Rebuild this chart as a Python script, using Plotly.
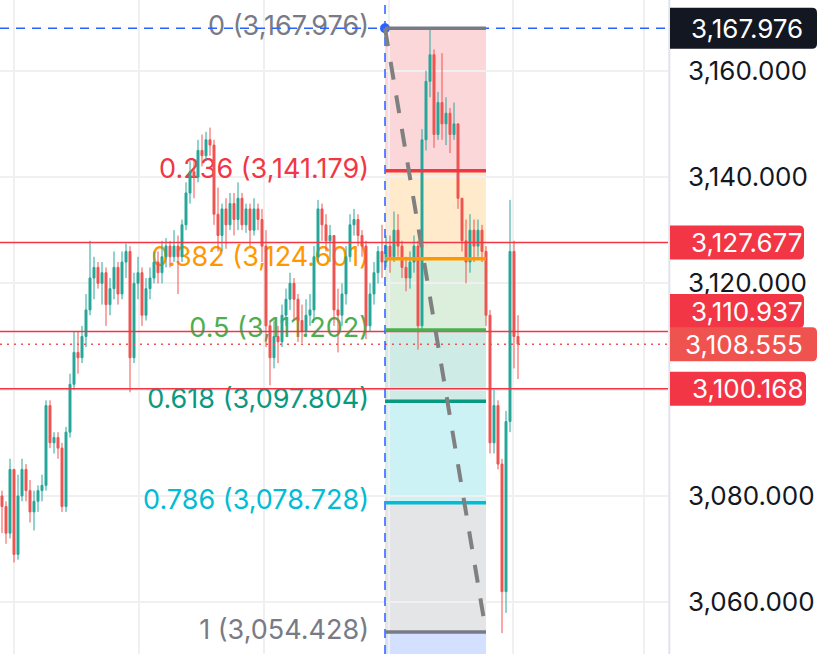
import plotly.graph_objects as go

# ---------------- data ----------------
close = [
    3078, 3073, 3085, 3069, 3080, 3085, 3081, 3077, 3079, 3081,
    3082, 3097, 3090, 3091, 3089, 3078, 3092, 3101, 3107, 3106,
    3110, 3115, 3121, 3123, 3120, 3122, 3116, 3119, 3123, 3118,
    3124, 3126, 3106, 3120, 3122, 3114, 3119, 3121, 3124, 3122,
    3125, 3127, 3125, 3127, 3125, 3131, 3137, 3141, 3140, 3145,
    3144, 3147, 3146, 3133, 3129, 3134, 3131, 3135, 3132, 3136,
    3131, 3134, 3130, 3134, 3132, 3127, 3112, 3106, 3110, 3109,
    3114, 3117, 3120, 3117, 3113, 3111, 3114, 3115, 3125, 3134,
    3131, 3128, 3129, 3115, 3114, 3118, 3125, 3131, 3132, 3129,
    3127, 3112, 3118, 3122, 3126, 3124, 3127, 3125, 3130, 3127,
    3123, 3121, 3124, 3127, 3112, 3147, 3158, 3163, 3148, 3154,
    3150, 3152, 3148, 3150, 3136, 3128, 3124, 3130, 3127, 3130,
    3126, 3114, 3090, 3097, 3086, 3062, 3094, 3126, 3110, 3108.555,
]
high = [
    3081, 3079, 3087, 3085, 3084, 3087, 3086, 3083, 3081, 3082,
    3084, 3098, 3098, 3092, 3092, 3090, 3093, 3103, 3111, 3111,
    3112, 3118, 3128, 3125, 3124, 3124, 3123, 3121, 3126, 3124,
    3126, 3127.5, 3127, 3122, 3125, 3123, 3121, 3123, 3126, 3126,
    3128, 3128.5, 3128, 3130, 3129, 3132, 3139, 3143, 3143, 3147,
    3148, 3148.5, 3149.3, 3147, 3138, 3135, 3136, 3137, 3137, 3139,
    3137, 3135, 3135, 3136, 3135, 3134, 3130, 3113, 3113, 3112,
    3116, 3119, 3122, 3121, 3118, 3116, 3117, 3118, 3127, 3135.7,
    3135, 3133, 3131, 3129, 3119, 3120, 3127, 3133, 3134, 3133,
    3130, 3128, 3120, 3124, 3127, 3131, 3129, 3129, 3133.5, 3133,
    3128, 3125, 3126, 3129, 3128, 3149, 3160, 3167.9, 3164, 3156,
    3163.3, 3155, 3153, 3154, 3150, 3136, 3132, 3133, 3132, 3132,
    3131, 3127, 3115, 3100, 3098, 3087, 3096, 3135.7, 3128, 3114,
]
low = [
    3073, 3071, 3072, 3067.5, 3068, 3079, 3079, 3075, 3073.5, 3077,
    3079, 3081, 3089, 3088, 3087, 3077, 3077, 3091, 3100, 3103,
    3105, 3108, 3114, 3117, 3119, 3116, 3112, 3114, 3117, 3116,
    3117, 3121, 3099.5, 3105, 3117, 3112, 3113, 3117, 3120, 3120,
    3120, 3123, 3123, 3124, 3118, 3124, 3130, 3135, 3136, 3139,
    3142, 3143, 3144, 3131, 3126, 3126, 3126.5, 3130, 3129, 3130,
    3130, 3129.5, 3127, 3129, 3130, 3124, 3108, 3100.8, 3104, 3105,
    3108, 3112, 3115, 3113, 3109, 3108.8, 3110, 3112, 3113, 3124,
    3128, 3126, 3124, 3112, 3107, 3112, 3116, 3124, 3129, 3127,
    3125, 3109.5, 3111, 3116, 3120, 3121, 3123, 3122, 3124, 3125,
    3121, 3118.5, 3119, 3122, 3107.5, 3111, 3145, 3155, 3145.5, 3147,
    3147, 3146, 3144.5, 3147, 3134, 3126, 3120, 3122, 3124, 3125,
    3124, 3112, 3088, 3088, 3085, 3054.2, 3058, 3092, 3104, 3102,
]
first_open = 3080
open_ = [first_open] + close[:-1]
bars = list(range(len(close)))

fib_ratio_text = ["0", "0.236", "0.382", "0.5", "0.618", "0.786", "1"]
fib_prices = [3167.976, 3141.179, 3124.601, 3111.202, 3097.804, 3078.728, 3054.428]
fib_colors = ["#787B86", "#F23645", "#FF9800", "#4CAF50", "#089981", "#00BCD4", "#787B86"]
fib_fills = ["rgba(242,54,69,0.2)", "rgba(255,152,0,0.2)", "rgba(76,175,80,0.2)",
             "rgba(8,153,129,0.2)", "rgba(0,188,212,0.2)", "rgba(120,123,134,0.2)",
             "rgba(41,98,255,0.2)"]
fib_start_bar = 95.75
fib_end_bar = 121.0
fib_ext_price = 3040.0

hline_prices = [3127.677, 3110.937, 3100.168]
last_price = 3108.555

tick_vals = [3060, 3080, 3100, 3120, 3140, 3160]
tick_text = ["3,060.000", "3,080.000", "", "3,120.000", "3,140.000", "3,160.000"]
vgrid_bars = [3, 34.25, 65.5, 96.75, 127.75, 160.5]

x_range = [-0.5, 166.5]
y_range = [3050.27, 3173.30]

FONT = "Inter, Roboto, sans-serif"
FS = 26
PLOT_W = 668.0
PLOT_H = 654.0
PX_PER_PRICE = PLOT_H / (y_range[1] - y_range[0])

fig = go.Figure()

# fib labels (drawn under candles)
fig.add_trace(go.Scatter(
    x=[fib_start_bar - 4.0] * len(fib_prices), y=fib_prices, mode="text",
    text=[f"{r} ({p:,.3f})" for r, p in zip(fib_ratio_text, fib_prices)],
    textposition="middle left",
    textfont=dict(family=FONT, size=27, color=fib_colors),
    hoverinfo="skip", xaxis="x", yaxis="y"))

# candles on overlay axes so they sit above label text
fig.add_trace(go.Candlestick(
    x=bars, open=open_, high=high, low=low, close=close,
    increasing=dict(line=dict(color="#26A69A", width=1), fillcolor="#26A69A"),
    decreasing=dict(line=dict(color="#EF5350", width=1), fillcolor="#EF5350"),
    whiskerwidth=0, xaxis="x2", yaxis="y2", hoverinfo="skip"))

fig.add_trace(go.Scatter(
    x=[fib_start_bar], y=[fib_prices[0]], mode="markers",
    marker=dict(size=10, color="#2962FF"), xaxis="x2", yaxis="y2", hoverinfo="skip"))

shapes = []
levels_ext = fib_prices + [fib_ext_price]
for i in range(len(fib_fills)):
    shapes.append(dict(type="rect", xref="x", yref="y", x0=fib_start_bar, x1=fib_end_bar,
                       y0=levels_ext[i], y1=levels_ext[i + 1], fillcolor=fib_fills[i],
                       line=dict(width=0), layer="below"))
for p in hline_prices:
    shapes.append(dict(type="line", xref="paper", yref="y", x0=0, x1=1, y0=p, y1=p,
                       line=dict(color="#F23645", width=1.5), layer="above"))
shapes.append(dict(type="line", xref="paper", yref="y", x0=0, x1=1, y0=last_price, y1=last_price,
                   line=dict(color="#EF5350", width=1.5, dash="2px,5px"), layer="above"))
shapes.append(dict(type="line", xref="paper", yref="y", x0=0, x1=1, y0=fib_prices[0], y1=fib_prices[0],
                   line=dict(color="#2962FF", width=1.5, dash="9px,7px"), layer="above"))
shapes.append(dict(type="line", xref="x", yref="paper", x0=fib_start_bar, x1=fib_start_bar, y0=0, y1=1,
                   line=dict(color="#2962FF", width=1.5, dash="9px,7px"), layer="above"))
for p, c in zip(fib_prices, fib_colors):
    shapes.append(dict(type="line", xref="x", yref="y", x0=fib_start_bar, x1=fib_end_bar, y0=p, y1=p,
                       line=dict(color=c, width=3.5), layer="above"))
shapes.append(dict(type="line", xref="x", yref="y", x0=fib_start_bar, x1=fib_end_bar,
                   y0=fib_prices[0], y1=fib_prices[-1],
                   line=dict(color="#808080", width=4, dash="18px,16px"), layer="above"))
shapes.append(dict(type="line", xref="paper", yref="paper", x0=1.002, x1=1.002, y0=0, y1=1,
                   line=dict(color="#E0E3EB", width=2), layer="above"))

# price labels on the axis: (price, colour, right edge px, height px, shift px)
label_specs = [
    (fib_prices[0], "#131722", 817, 41, 0),
    (hline_prices[0], "#F23645", 804, 34, 0),
    (hline_prices[1], "#F23645", 804, 34, 20.5),
    (last_price, "#EF5350", 817, 34, 0),
    (hline_prices[2], "#F23645", 806, 34, 0),
]
annotations = []
r_px = 5.0
for p, col, right_px, h_px, shift_px in label_specs:
    xl = 670 / PLOT_W
    xr = right_px / PLOT_W
    rx = r_px / PLOT_W
    yc = p + shift_px / PX_PER_PRICE
    hh = (h_px / 2) / PX_PER_PRICE
    ry = r_px / PX_PER_PRICE
    yb, yt = yc - hh, yc + hh
    path = (f"M {xl},{yb} L {xr - rx},{yb} Q {xr},{yb} {xr},{yb + ry} "
            f"L {xr},{yt - ry} Q {xr},{yt} {xr - rx},{yt} L {xl},{yt} Z")
    shapes.append(dict(type="path", xref="paper", yref="y", path=path, fillcolor=col,
                       line=dict(width=0), layer="above"))
    annotations.append(dict(
        xref="paper", yref="y", x=805 / PLOT_W, y=p, xanchor="right", yanchor="middle",
        yshift=shift_px, text=f"{p:,.3f}", showarrow=False,
        font=dict(family=FONT, size=FS, color="white")))

fig.update_layout(
    width=828, height=654, margin=dict(l=0, r=160, t=0, b=0),
    paper_bgcolor="white", plot_bgcolor="white", showlegend=False,
    font=dict(family=FONT, size=FS, color="#131722"),
    shapes=shapes, annotations=annotations,
    xaxis=dict(range=x_range, tickvals=vgrid_bars, showticklabels=False, showgrid=True,
               gridcolor="#F0F0F0", gridwidth=1.5, zeroline=False, showline=False, ticks="",
               fixedrange=True),
    yaxis=dict(range=y_range, side="right", tickvals=tick_vals, ticktext=tick_text,
               showgrid=True, gridcolor="#F0F0F0", gridwidth=1.5, zeroline=False, showline=False,
               ticks="", ticklabelstandoff=19, automargin=False,
               tickfont=dict(family=FONT, size=FS, color="#131722")),
    xaxis2=dict(range=x_range, overlaying="x", visible=False, rangeslider=dict(visible=False)),
    yaxis2=dict(range=y_range, overlaying="y", visible=False, side="right"),
)

fig.write_html("out.html", config={"displayModeBar": False},
               post_script="document.body.style.margin='0';")
